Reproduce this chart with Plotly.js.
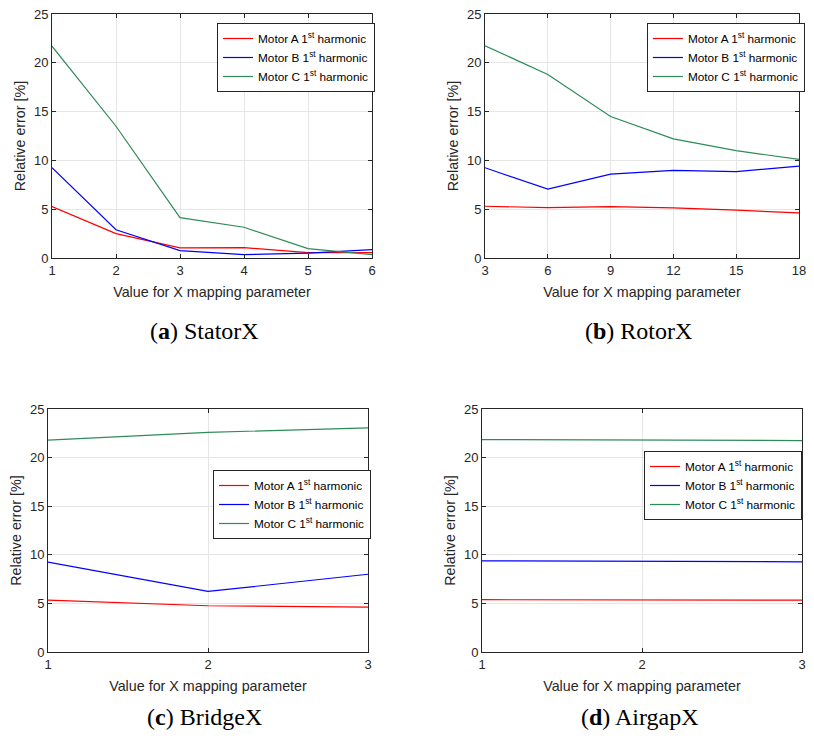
<!DOCTYPE html>
<html>
<head>
<meta charset="utf-8">
<script src="https://cdn.plot.ly/plotly-3.0.1.min.js"></script>
<style>
html,body{margin:0;padding:0;background:#fff;}
#wrap{position:relative;width:814px;height:744px;overflow:hidden;}
.panel{position:absolute;width:407px;height:372px;}
</style>
</head>
<body>
<div id="wrap">
<div id="p1" class="panel" style="left:0;top:0;"></div>
<div id="p2" class="panel" style="left:407px;top:0;"></div>
<div id="p3" class="panel" style="left:0;top:372px;"></div>
<div id="p4" class="panel" style="left:407px;top:372px;"></div>
</div>
<script>
// Panel (a) StatorX
const xStator = [1, 2, 3, 4, 5, 6];
const statorA = [5.27, 2.5, 1.03, 1.06, 0.55, 0.55];
const statorB = [9.25, 2.9, 0.75, 0.34, 0.5, 0.86];
const statorC = [21.7, 13.5, 4.14, 3.15, 0.96, 0.34];
// Panel (b) RotorX
const xRotor = [3, 6, 9, 12, 15, 18];
const rotorA = [5.3, 5.17, 5.27, 5.14, 4.9, 4.62];
const rotorB = [9.25, 7.05, 8.6, 8.97, 8.84, 9.42];
const rotorC = [21.75, 18.8, 14.5, 12.2, 11.0, 10.1];
// Panel (c) BridgeX
const xBridge = [1, 2, 3];
const bridgeA = [5.34, 4.76, 4.62];
const bridgeB = [9.25, 6.23, 8.0];
const bridgeC = [21.8, 22.6, 23.05];
// Panel (d) AirgapX
const xAirgap = [1, 2, 3];
const airgapA = [5.38, 5.34, 5.34];
const airgapB = [9.38, 9.32, 9.28];
const airgapC = [21.85, 21.8, 21.75];

const seriesNames = ['Motor A 1<sup>st</sup> harmonic', 'Motor B 1<sup>st</sup> harmonic', 'Motor C 1<sup>st</sup> harmonic'];
const colors = ['rgb(255,0,0)', 'rgb(0,0,255)', 'rgb(46,139,87)'];
const captions = ['(<b>a</b>) StatorX', '(<b>b</b>) RotorX', '(<b>c</b>) BridgeX', '(<b>d</b>) AirgapX'];
const yTicks = [0, 5, 10, 15, 20, 25];
const xTicksList = [[1,2,3,4,5,6],[3,6,9,12,15,18],[1,2,3],[1,2,3]];

const panels = [
  {x: xStator, ys: [statorA, statorB, statorC]},
  {x: xRotor, ys: [rotorA, rotorB, rotorC]},
  {x: xBridge, ys: [bridgeA, bridgeB, bridgeC]},
  {x: xAirgap, ys: [airgapA, airgapB, airgapC]}
];

const PW = 407, PH = 372;
const boxes = [
  {l: 52, r: 372, t: 14, b: 258},
  {l: 485, r: 805, t: 14, b: 258},
  {l: 48, r: 368, t: 409, b: 652},
  {l: 482, r: 802, t: 409, b: 652}
];
const legendPos = [
  {x: 217, y: 23}, {x: 650, y: 23}, {x: 213, y: 470}, {x: 644, y: 451}
];
const captionPos = [
  {x: 204, y: 331}, {x: 641, y: 331}, {x: 204, y: 717}, {x: 640, y: 717}
];

const sans = 'Liberation Sans, Arial, sans-serif';
const textFont = {family: sans, size: 14.3, color: '#262626'};

panels.forEach((p, i) => {
  const offX = (i % 2) * PW, offY = Math.floor(i / 2) * PH;
  const b = boxes[i];
  const m = {l: b.l - offX, r: offX + PW - b.r, t: b.t - offY, b: offY + PH - b.b};
  const plotW = b.r - b.l, plotH = b.b - b.t;
  const traces = p.ys.map((y, k) => ({
    x: p.x, y: y, type: 'scatter', mode: 'lines',
    name: seriesNames[k],
    line: {color: colors[k], width: 1.2},
    hoverinfo: 'skip'
  }));
  const xt = xTicksList[i];
  const axCommon = {
    showline: true, linecolor: '#262626', linewidth: 1, mirror: 'ticks',
    ticks: 'inside', ticklen: 4, tickcolor: '#262626', tickwidth: 1,
    showgrid: true, gridcolor: '#e6e6e6', gridwidth: 1,
    zeroline: false, tickfont: {family: sans, size: 13, color: '#262626'},
    fixedrange: true
  };
  const L = legendPos[i];
  const C = captionPos[i];
  const layout = {
    width: PW, height: PH,
    margin: m,
    paper_bgcolor: '#ffffff', plot_bgcolor: '#ffffff',
    font: {family: sans, color: '#262626', size: 13},
    showlegend: true,
    xaxis: Object.assign({}, axCommon, {
      range: [xt[0], xt[xt.length - 1]],
      tickmode: 'array', tickvals: xt, ticktext: xt.map(String),
      title: {text: 'Value for X mapping parameter', font: textFont, standoff: 10}
    }),
    yaxis: Object.assign({}, axCommon, {
      range: [0, 25],
      tickmode: 'array', tickvals: yTicks, ticktext: yTicks.map(String),
      title: {text: 'Relative error [%]', font: textFont, standoff: 4}
    }),
    legend: {
      x: (L.x - b.l) / plotW, y: 1 - (L.y - b.t) / plotH,
      xanchor: 'left', yanchor: 'top',
      bgcolor: '#ffffff', bordercolor: '#262626', borderwidth: 1,
      font: {family: sans, size: 11.8, color: '#000000'},
      itemwidth: 30, tracegroupgap: 0
    },
    annotations: [{
      text: captions[i], xref: 'paper', yref: 'paper',
      x: (C.x - b.l) / plotW, y: 1 - (C.y - b.t) / plotH,
      xanchor: 'center', yanchor: 'middle', showarrow: false,
      font: {family: 'Liberation Serif, Times New Roman, serif', size: 24, color: '#000000'}
    }]
  };
  Plotly.newPlot('p' + (i + 1), traces, layout, {displayModeBar: false});
});
</script>
</body>
</html>
